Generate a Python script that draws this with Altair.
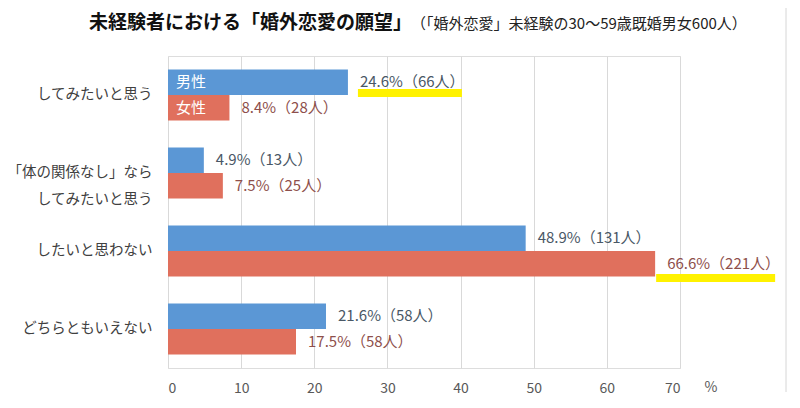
import altair as alt
import pandas as pd

categories = ["してみたいと思う", "「体の関係なし」なら\nしてみたいと思う", "したいと思わない", "どちらともいえない"]
genders = ["男性", "女性"]
male_pct = [24.6, 4.9, 48.9, 21.6]
male_n = [66, 13, 131, 58]
female_pct = [8.4, 7.5, 66.6, 17.5]
female_n = [28, 25, 221, 58]
x_ticks = [0, 10, 20, 30, 40, 50, 60, 70]
title_main = "未経験者における「婚外恋愛の願望」"
title_sub = "（「婚外恋愛」未経験の30～59歳既婚男女600人）"

rows = []
for i, c in enumerate(categories):
    rows.append({"cat": c, "g": "男性", "v": male_pct[i], "n": male_n[i], "idx": i})
    rows.append({"cat": c, "g": "女性", "v": female_pct[i], "n": female_n[i], "idx": i})
df = pd.DataFrame(rows)
df["label"] = df.apply(lambda r: f"{r['v']:.1f}%（{r['n']}人）", axis=1)

FONT = "Noto Sans CJK JP"
BLUE = "#5B97D5"
RED = "#E0705D"
TXT_M = "#4A5866"
TXT_F = "#8E4F4B"

yscale = alt.Scale(domain=categories, paddingInner=0.346, paddingOuter=0.173)
ysc = alt.Y("cat:N", scale=yscale,
            axis=alt.Axis(title=None, ticks=False, domain=False, labelPadding=16,
                          labelFontSize=14.5, labelColor="#404040", labelFont=FONT,
                          labelLineHeight=27, labelExpr="split(datum.label, '\\n')",
                          labelLimit=220))
yoff = alt.YOffset("g:N", scale=alt.Scale(domain=genders, paddingInner=0, paddingOuter=0))
xenc = alt.X("v:Q", scale=alt.Scale(domain=[0, 70], nice=False),
             axis=alt.Axis(title=None, values=x_ticks, ticks=False, domain=False,
                           gridColor="#D9D9D9", labelFontSize=14, labelColor="#595959",
                           labelFont=FONT, labelPadding=13))
color = alt.Color("g:N", scale=alt.Scale(domain=genders, range=[BLUE, RED]), legend=None)

base = alt.Chart(df)

hl_male = base.transform_filter("datum.idx == 0 && datum.g == '男性'").mark_rule(
    color="#FFF200", strokeWidth=8, xOffset=10, x2Offset=114, yOffset=-2
).encode(x="v:Q", x2="v:Q", y=alt.Y("cat:N", scale=yscale))

hl_female = base.transform_filter("datum.idx == 2 && datum.g == '女性'").mark_rule(
    color="#FFF200", strokeWidth=8, xOffset=1, x2Offset=120, yOffset=27
).encode(x="v:Q", x2="v:Q", y=alt.Y("cat:N", scale=yscale))

bars = base.mark_bar(size=25.5).encode(y=ysc, yOffset=yoff, x=xenc, color=color)

labels = base.transform_calculate(
    lc=f"datum.g == '男性' ? '{TXT_M}' : '{TXT_F}'"
).mark_text(align="left", baseline="middle", dx=12, fontSize=15, font=FONT).encode(
    y=alt.Y("cat:N", scale=yscale), yOffset=yoff, x="v:Q", text="label:N",
    color=alt.Color("lc:N", scale=None)
)

inner = base.transform_filter("datum.idx == 0").mark_text(
    align="left", baseline="middle", dx=8, fontSize=15, font=FONT, color="white"
).encode(y=alt.Y("cat:N", scale=yscale), yOffset=yoff, x=alt.datum(0), text="g:N")

pct = alt.Chart(pd.DataFrame({"t": ["%"]})).mark_text(
    fontSize=14, font=FONT, color="#595959", baseline="middle"
).encode(x=alt.value(543), y=alt.value(332), text="t:N")

t1 = alt.Chart(pd.DataFrame({"t": [title_main]})).mark_text(
    fontSize=19, font=FONT, fontWeight="bold", color="#111111", align="left", baseline="middle"
).encode(x=alt.value(-79), y=alt.value(-33), text="t:N")

t2 = alt.Chart(pd.DataFrame({"t": [title_sub]})).mark_text(
    fontSize=15, font=FONT, color="#222222", align="left", baseline="middle"
).encode(x=alt.value(243), y=alt.value(-32), text="t:N")

border = alt.Chart(pd.DataFrame({"a": [0]})).mark_rule(color="#D6D6D6", strokeWidth=1).encode(
    x=alt.value(618), y=alt.value(-56), y2=alt.value(336)
)

chart = alt.layer(hl_male, hl_female, bars, labels, inner, pct, t1, t2, border).properties(
    width=512, height=312,
    autosize=alt.AutoSizeParams(type="none"),
    padding={"left": 160, "top": 48, "right": 112, "bottom": 32},
).configure_view(stroke=None).configure(background="white")

chart.save("out.html", embed_options={"renderer": "svg", "actions": False})
